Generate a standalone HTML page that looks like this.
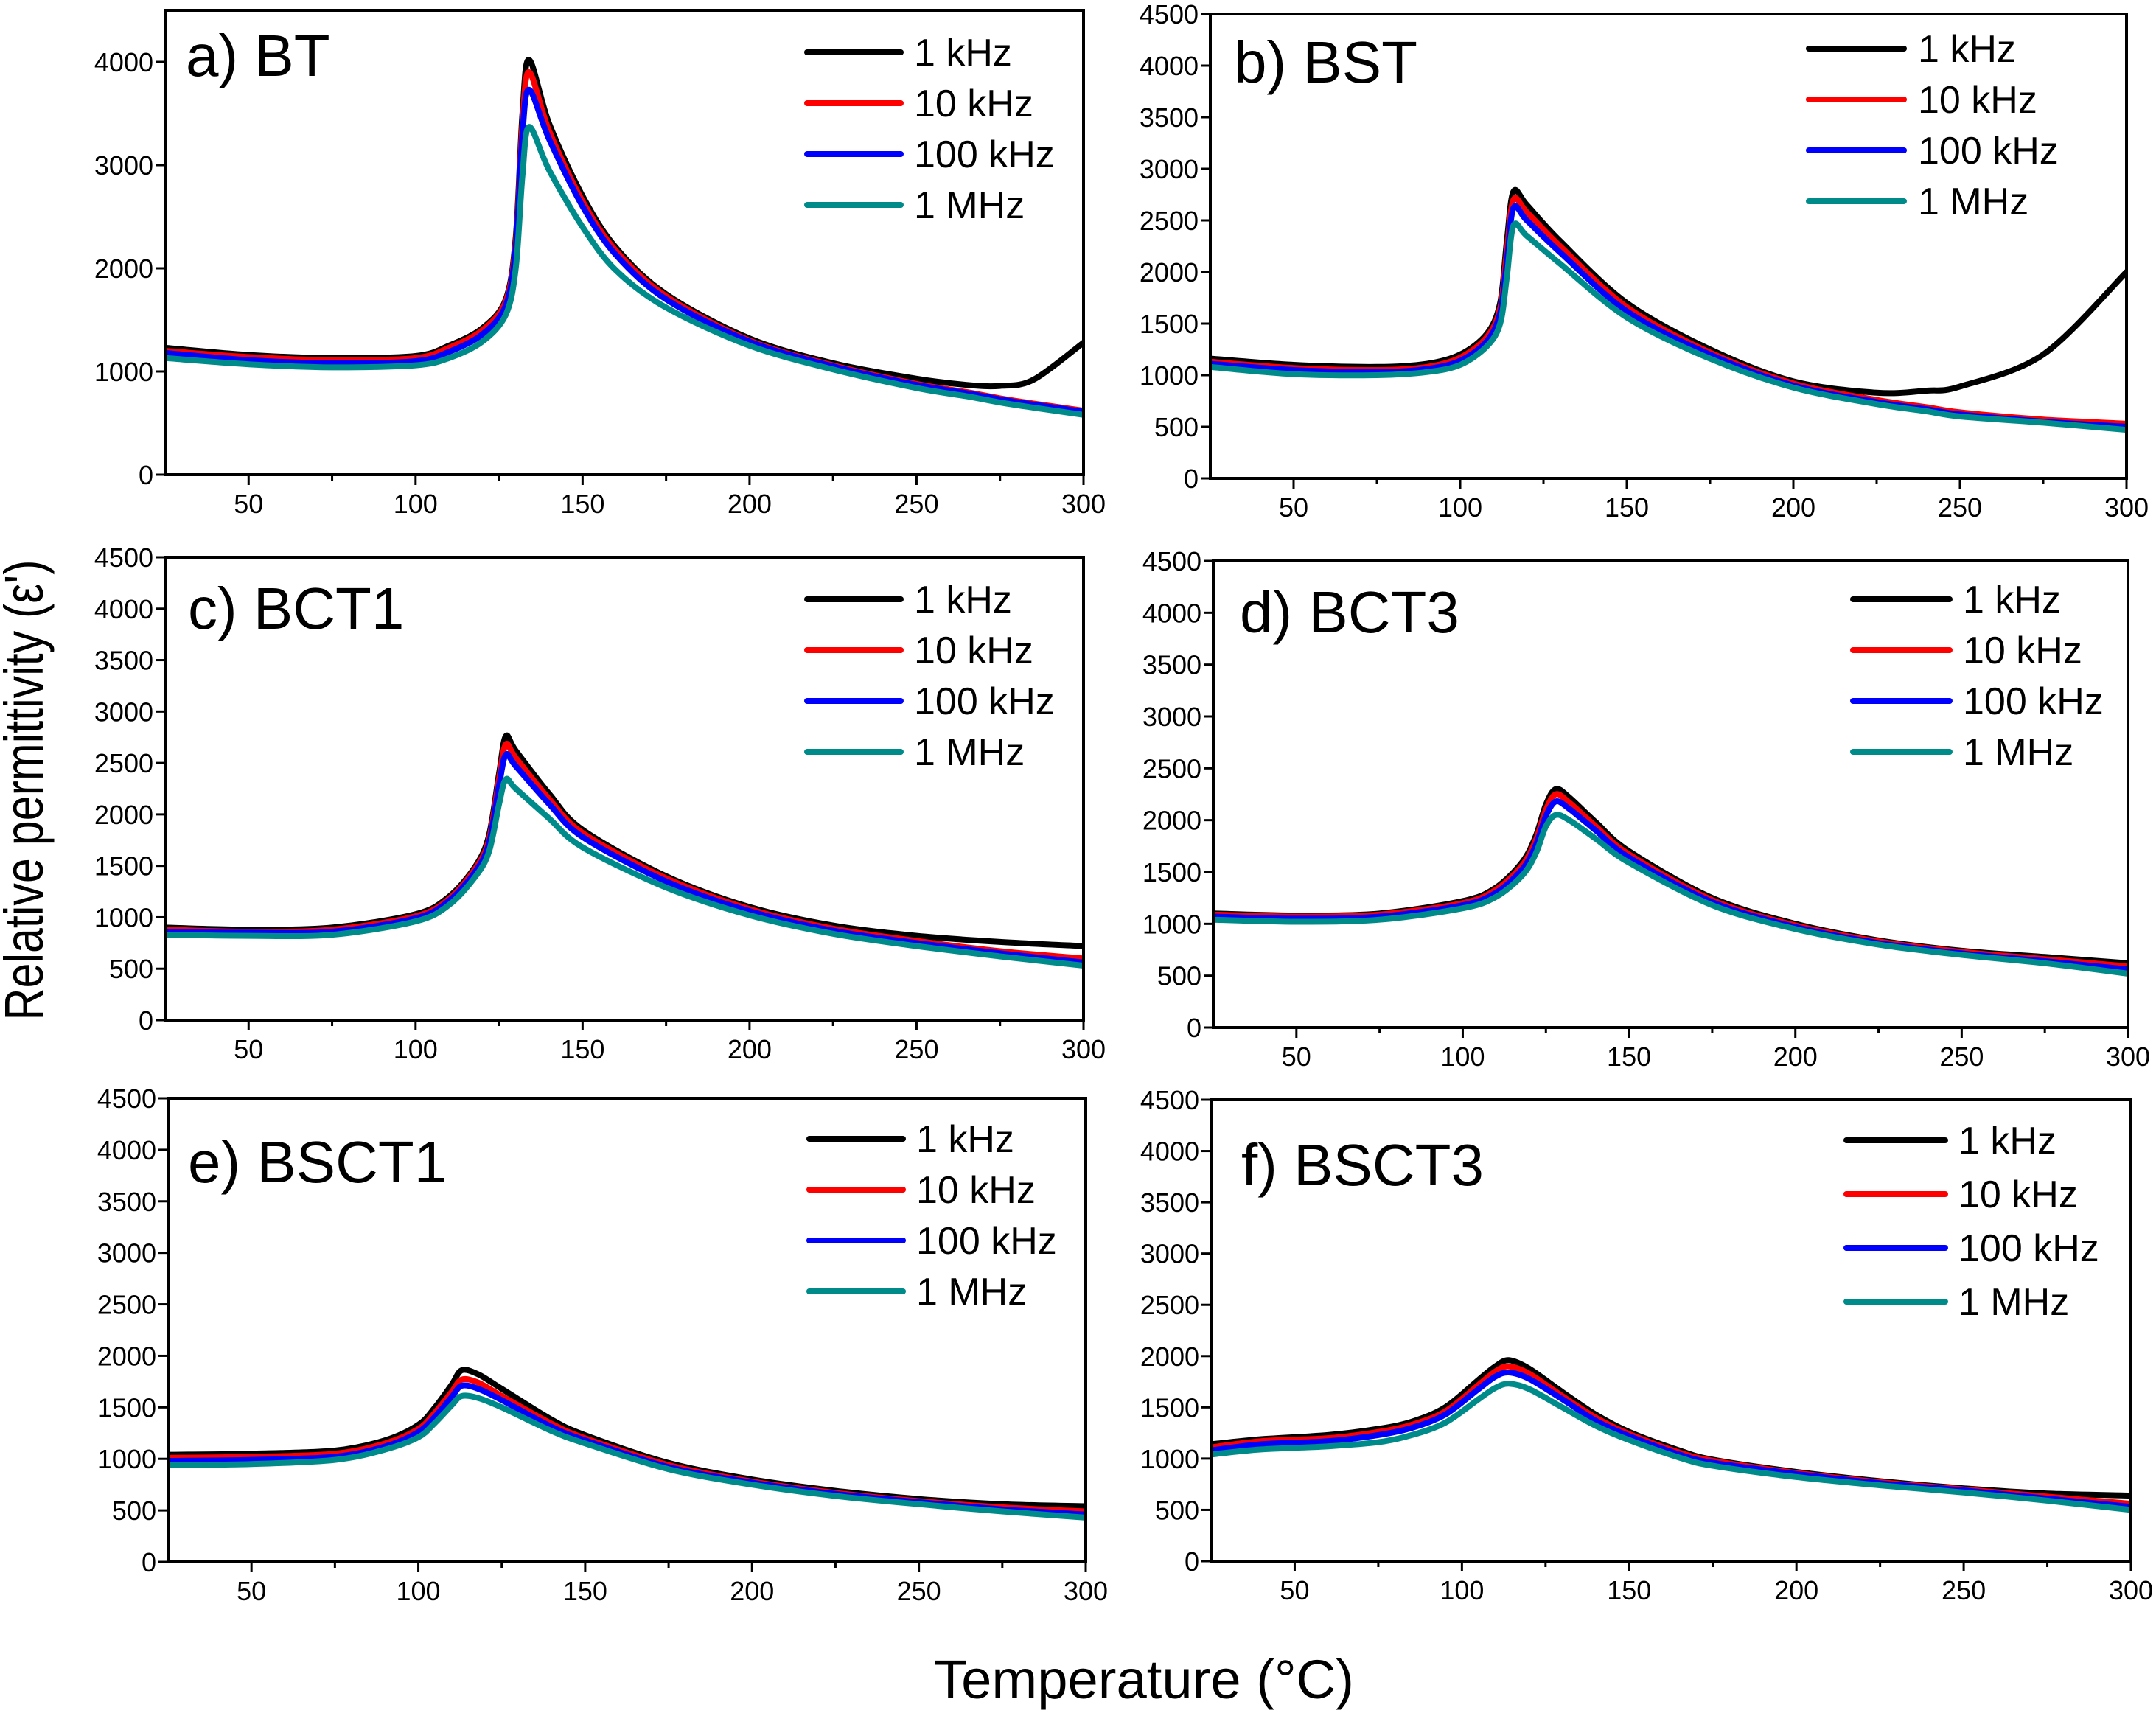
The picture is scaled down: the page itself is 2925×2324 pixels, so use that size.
<!DOCTYPE html>
<html><head><meta charset="utf-8"><style>
html,body{margin:0;padding:0;background:#fff;}
svg{display:block;font-family:"Liberation Sans",Arial,sans-serif;}
</style></head><body>
<svg id="fig" width="2925" height="2324" viewBox="0 0 2925 2324" xmlns="http://www.w3.org/2000/svg">
<rect width="2925" height="2324" fill="#fff"/>
<text transform="translate(58,1072) rotate(-90)" text-anchor="middle" font-size="74" textLength="625" lengthAdjust="spacingAndGlyphs">Relative permittivity (ε')</text>
<text x="1552" y="2304" text-anchor="middle" font-size="74" textLength="570" lengthAdjust="spacingAndGlyphs">Temperature (°C)</text>
</svg>
<script>
const seriesNames = ["1 kHz","10 kHz","100 kHz","1 MHz"];
const seriesColors = ["#000000","#ff0000","#0000ff","#008b8b"];
const xTicks = [50,100,150,200,250,300];

const tempsA = [25,50,75,100,110,120,127,130,132,134,140,150,160,175,200,225,250,265,275,285,300];
const a1k   = [1230,1160,1130,1150,1250,1420,1700,2300,3500,4020,3400,2700,2200,1750,1320,1080,930,870,860,920,1280];
const a10k  = [1200,1140,1110,1130,1230,1400,1680,2250,3400,3900,3330,2650,2170,1730,1300,1060,880,800,740,690,620];
const a100k = [1180,1110,1080,1100,1190,1360,1640,2200,3300,3730,3250,2600,2130,1700,1290,1050,870,790,730,680,610];
const a1M   = [1130,1070,1040,1060,1130,1290,1550,2000,2900,3370,2950,2400,1980,1620,1250,1020,840,760,700,650,580];

const tempsB = [25,50,75,90,100,108,112,114,116,120,130,150,175,200,225,240,250,275,300];
const b1k   = [1160,1100,1080,1110,1200,1400,1700,2300,2780,2650,2300,1700,1250,940,830,850,890,1200,2000];
const b10k  = [1130,1070,1050,1080,1170,1370,1650,2200,2700,2580,2250,1660,1220,920,760,690,640,570,530];
const b100k = [1110,1050,1030,1060,1140,1330,1600,2100,2620,2500,2190,1620,1200,900,740,670,620,550,500];
const b1M   = [1080,1010,1000,1030,1100,1280,1500,1950,2450,2350,2080,1560,1160,880,720,650,600,540,470];

const tempsC = [25,50,75,100,110,118,122,125,127,130,140,150,175,200,225,250,275,300];
const c1k   = [900,880,900,1030,1200,1500,1800,2400,2760,2620,2200,1850,1400,1100,920,820,760,720];
const c10k  = [880,860,880,1010,1180,1480,1760,2350,2680,2550,2150,1820,1380,1080,890,770,670,600];
const c100k = [860,850,860,990,1160,1450,1720,2280,2580,2470,2100,1780,1350,1060,870,750,650,560];
const c1M   = [830,820,830,960,1120,1400,1640,2100,2340,2250,1960,1680,1290,1020,840,720,620,530];

const tempsD = [25,50,75,100,110,118,122,125,128,132,140,150,175,200,225,250,275,300];
const d1k   = [1100,1080,1100,1220,1350,1600,1850,2150,2300,2220,1980,1700,1250,1000,840,740,680,620];
const d10k  = [1090,1070,1090,1200,1330,1570,1810,2100,2250,2170,1940,1670,1230,985,830,730,660,590];
const d100k = [1070,1050,1070,1180,1300,1530,1760,2040,2180,2110,1900,1640,1210,970,815,715,640,560];
const d1M   = [1040,1020,1040,1150,1260,1470,1680,1940,2050,2000,1820,1590,1180,950,800,700,620,520];

const tempsE = [25,50,75,90,100,105,110,113,118,125,140,150,175,200,225,250,275,300];
const e1k   = [1040,1050,1080,1180,1330,1500,1720,1860,1820,1680,1380,1230,960,800,690,610,560,540];
const e10k  = [1010,1020,1050,1150,1290,1450,1650,1770,1740,1610,1340,1200,940,780,670,590,530,490];
const e100k = [980,990,1020,1120,1260,1410,1600,1710,1680,1570,1310,1180,920,770,660,580,510,460];
const e1M   = [940,950,990,1090,1210,1350,1520,1610,1590,1500,1270,1150,900,750,640,560,490,430];

const tempsF = [25,40,60,75,85,95,105,110,114,120,130,140,150,165,175,200,225,250,275,300];
const f1k   = [1140,1190,1230,1290,1360,1500,1770,1900,1960,1880,1650,1430,1260,1080,990,870,780,710,660,640];
const f10k  = [1110,1170,1200,1260,1330,1460,1720,1850,1900,1830,1610,1400,1240,1060,980,860,770,700,630,560];
const f100k = [1080,1140,1170,1230,1300,1430,1680,1800,1840,1780,1580,1370,1220,1040,960,850,760,690,610,530];
const f1M   = [1040,1090,1120,1160,1230,1350,1580,1690,1730,1680,1500,1320,1180,1010,930,820,740,670,590,500];

const titles = ["a) BT","b) BST","c) BCT1","d) BCT3","e) BSCT1","f) BSCT3"];
const yTicksA = [0,1000,2000,3000,4000];
const yTicksOther = [0,500,1000,1500,2000,2500,3000,3500,4000,4500];

const NS="http://www.w3.org/2000/svg";
const svg=document.getElementById('fig');
function mk(tag,attrs,parent){const e=document.createElementNS(NS,tag);for(const k in attrs)e.setAttribute(k,attrs[k]);(parent||svg).appendChild(e);return e;}

const panels=[
 {box:[224,14,1470,644],temps:tempsA,data:[a1k,a10k,a100k,a1M],yt:yTicksA,leg:[375,248,230],ty:89,tx:28,ly:57,ls:69},
 {box:[1642,19,2885,649],temps:tempsB,data:[b1k,b10k,b100k,b1M],yt:yTicksOther,leg:[431,302,283],ty:93,tx:32,ly:47,ls:69},
 {box:[224,756,1470,1384],temps:tempsC,data:[c1k,c10k,c100k,c1M],yt:yTicksOther,leg:[375,248,230],ty:97,tx:31,ly:57,ls:69},
 {box:[1646,761,2887,1394],temps:tempsD,data:[d1k,d10k,d100k,d1M],yt:yTicksOther,leg:[373,242,224],ty:97,tx:36,ly:52,ls:69},
 {box:[228,1490,1473,2119],temps:tempsE,data:[e1k,e10k,e100k,e1M],yt:yTicksOther,leg:[375,248,230],ty:114,tx:27,ly:55,ls:69},
 {box:[1643,1492,2891,2118],temps:tempsF,data:[f1k,f10k,f100k,f1M],yt:yTicksOther,leg:[386,252,234],ty:116,tx:41,ly:55,ls:73}
];

function smoothPath(pts){
  let d="M"+pts[0][0].toFixed(1)+","+pts[0][1].toFixed(1);
  for(let i=0;i<pts.length-1;i++){
    const p0=pts[Math.max(0,i-1)],p1=pts[i],p2=pts[i+1],p3=pts[Math.min(pts.length-1,i+2)];
    const t=0.16;
    const c1=[p1[0]+(p2[0]-p0[0])*t,p1[1]+(p2[1]-p0[1])*t];
    const c2=[p2[0]-(p3[0]-p1[0])*t,p2[1]-(p3[1]-p1[1])*t];
    d+=" C"+c1[0].toFixed(1)+","+c1[1].toFixed(1)+" "+c2[0].toFixed(1)+","+c2[1].toFixed(1)+" "+p2[0].toFixed(1)+","+p2[1].toFixed(1);
  }
  return d;
}

panels.forEach((p,pi)=>{
  const [L,T,R,B]=p.box;
  const g=mk('g',{});
  
  
  const xS=v=>L+(v-25)/(300-25)*(R-L);
  const yS=v=>B-v/4500*(B-T);
  const clipId='clip'+pi;
  const cp=mk('clipPath',{id:clipId},g);
  mk('rect',{x:L,y:T,width:R-L,height:B-T},cp);
  p.data.forEach((vals,si)=>{
    const pts=p.temps.map((t,i)=>[xS(t),yS(vals[i])]);
    const path=mk('path',{d:smoothPath(pts),fill:'none',stroke:seriesColors[si],'stroke-width':8,'stroke-linejoin':'round','stroke-linecap':'round','clip-path':'url(#'+clipId+')'},g);
    
    
  });
  const fr=mk('rect',{x:L,y:T,width:R-L,height:B-T,fill:'none',stroke:'#000','stroke-width':4},g);
  
  
  xTicks.forEach(v=>{
    const x=xS(v);
    mk('line',{x1:x,y1:B,x2:x,y2:B+14,stroke:'#000','stroke-width':3},g);
    const t=mk('text',{x:x,y:B+52,'text-anchor':'middle','font-size':36},g);
    t.textContent=v;
    
    
  });
  [75,125,175,225,275].forEach(v=>{const x=xS(v);mk('line',{x1:x,y1:B,x2:x,y2:B+8,stroke:'#000','stroke-width':3},g);});
  p.yt.forEach(v=>{
    const y=yS(v);
    mk('line',{x1:L-13,y1:y,x2:L,y2:y,stroke:'#000','stroke-width':3},g);
    const t=mk('text',{x:L-16,y:y+13,'text-anchor':'end','font-size':36},g);
    t.textContent=v;
    
    
  });
  const tt=mk('text',{x:L+p.tx,y:T+p.ty,'font-size':80},g);
  tt.textContent=titles[pi];
  
  
  seriesNames.forEach((n,si)=>{
    const y=T+p.ly+si*p.ls;
    const ln=mk('line',{x1:R-p.leg[0],y1:y,x2:R-p.leg[1],y2:y,stroke:seriesColors[si],'stroke-width':8,'stroke-linecap':'round'},g);
    
    
    const t=mk('text',{x:R-p.leg[2],y:y+18,'font-size':52},g);
    t.textContent=n;
    
    
  });
});
</script>
</body></html>
